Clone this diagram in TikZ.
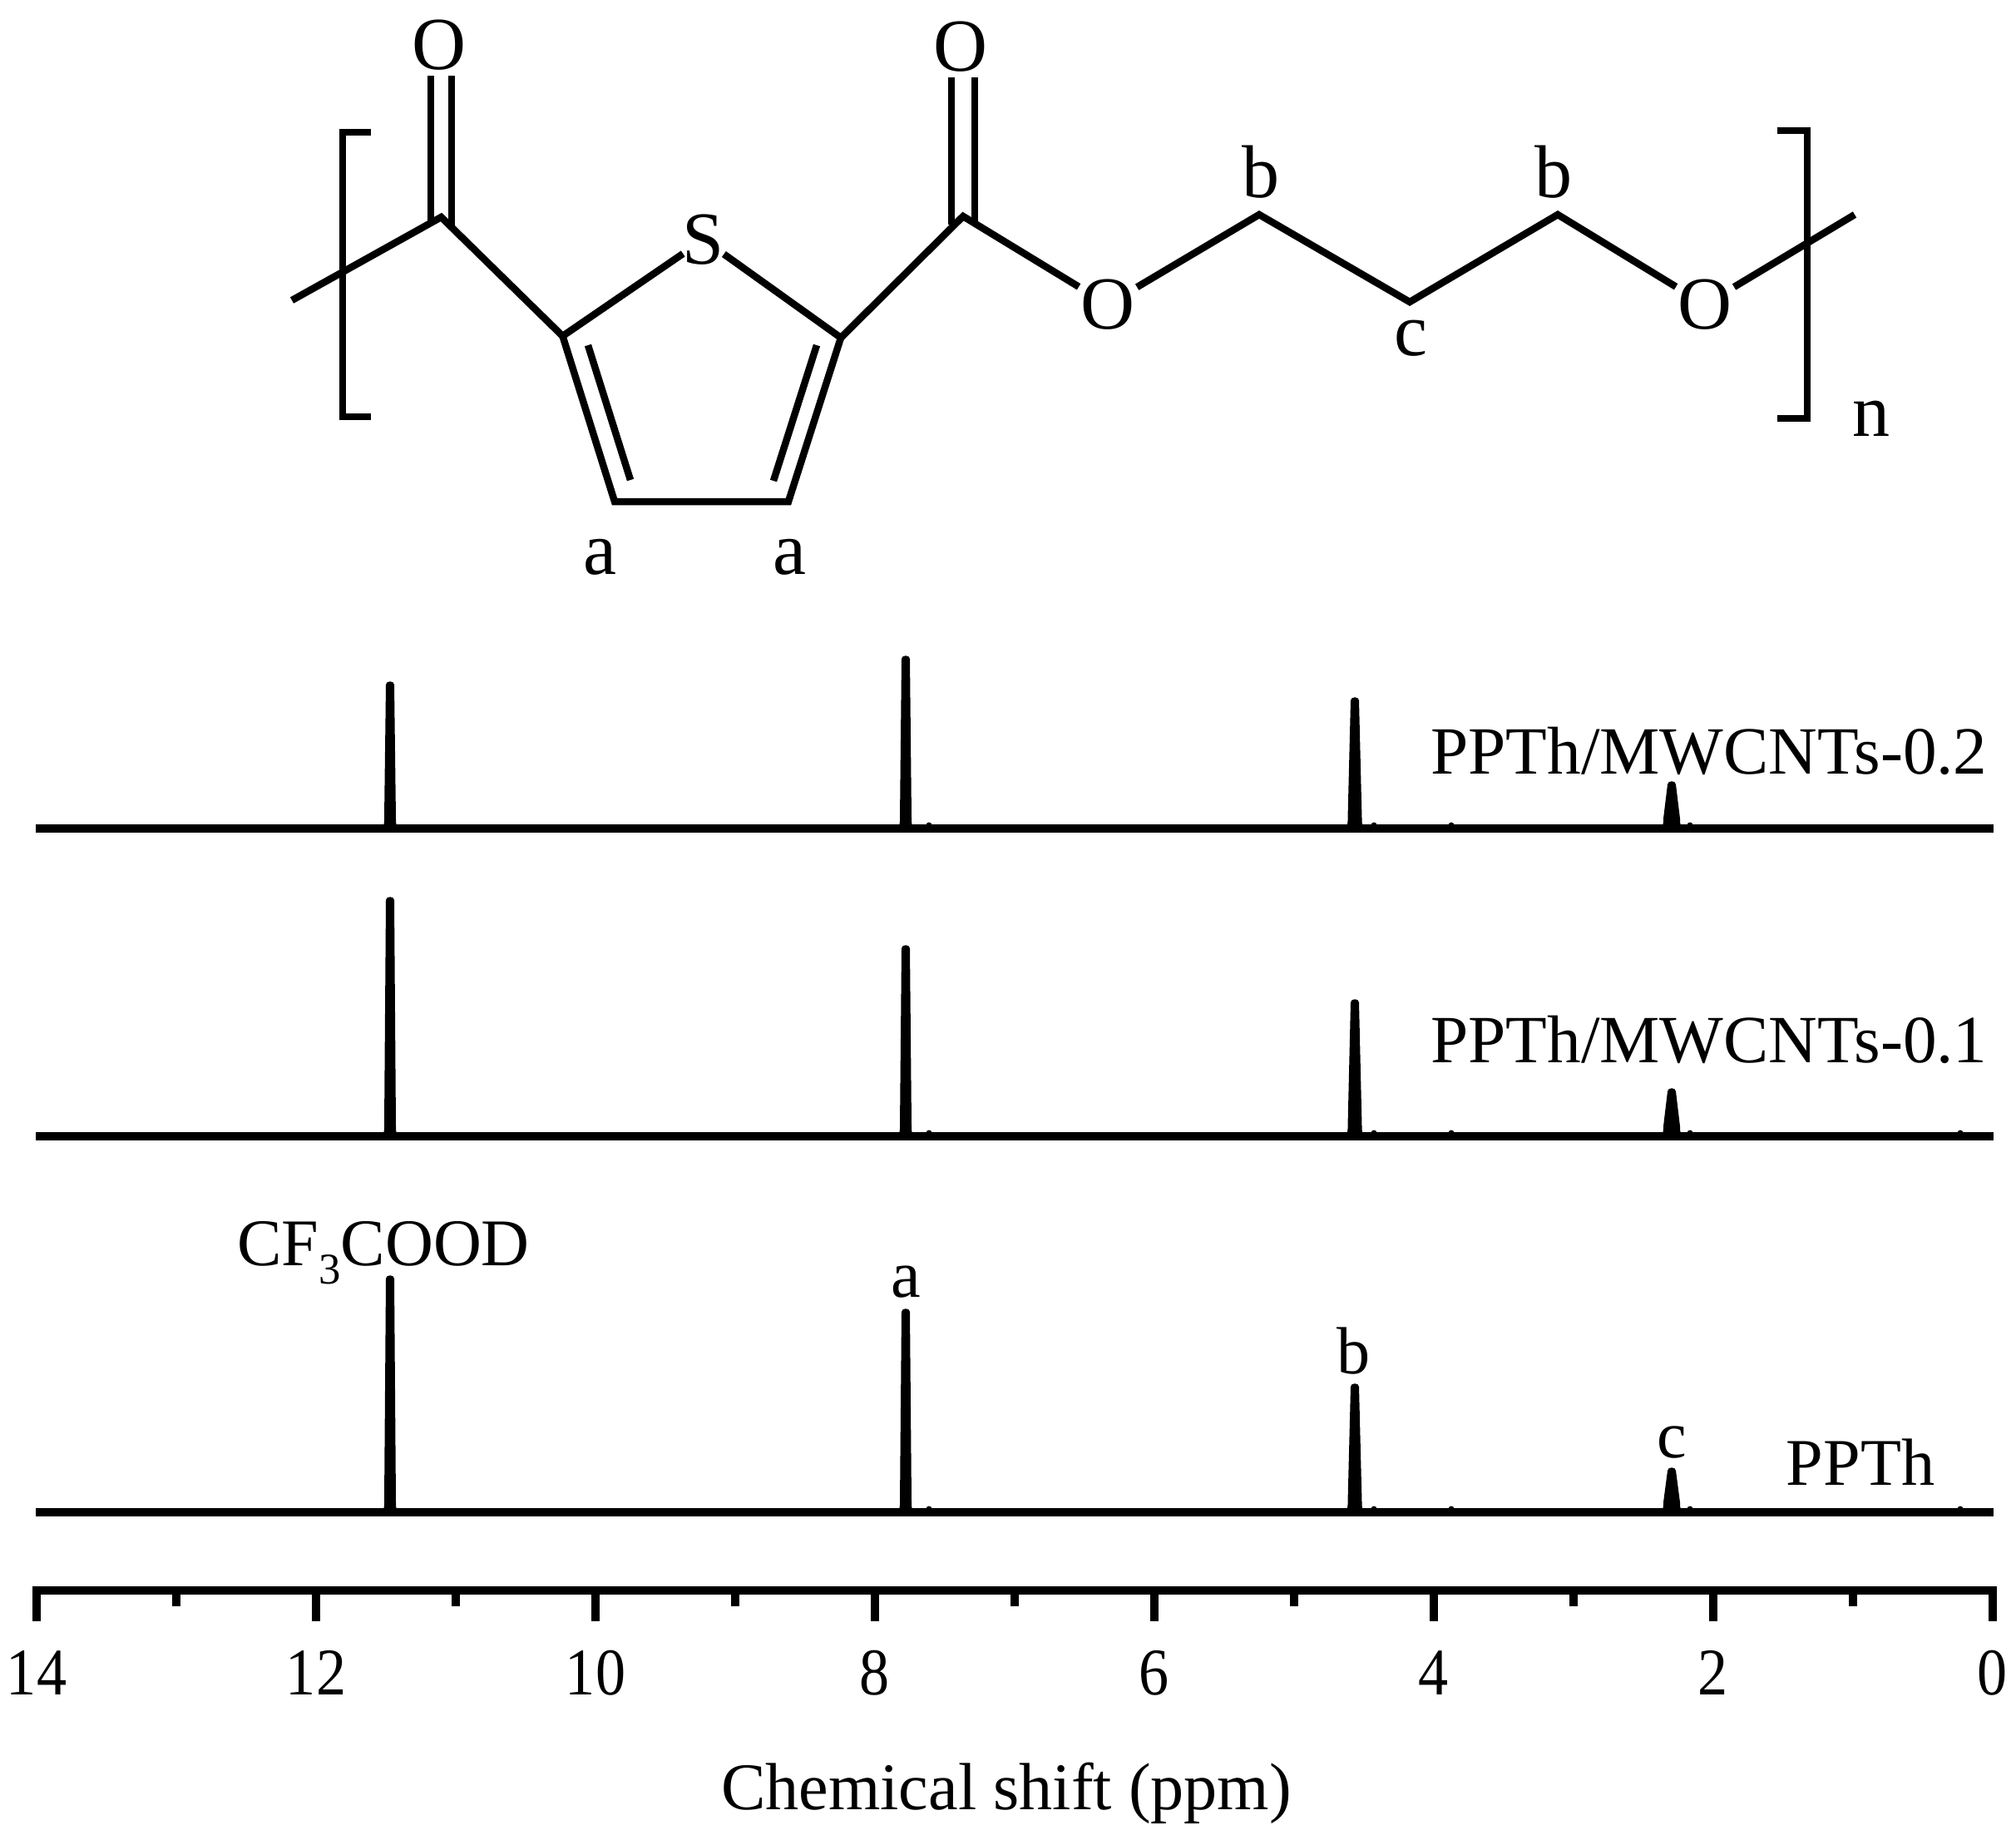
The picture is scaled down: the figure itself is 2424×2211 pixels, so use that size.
\documentclass[tikz,border=0pt]{standalone}
\usepackage{fontspec}
\setmainfont{Liberation Serif}
\newfontfamily\tickfamily[FakeStretch=0.9]{Liberation Serif}
\usetikzlibrary{calc}

\newcommand{\atomfont}{\fontsize{25.6pt}{30pt}\selectfont}
\newcommand{\plotfont}{\fontsize{22.8pt}{27pt}\selectfont}
\newcommand{\namefont}{\fontsize{23.1pt}{27pt}\selectfont}
\newcommand{\tickfont}{\tickfamily\fontsize{22.8pt}{27pt}\selectfont}
\newcommand{\subfont}{\fontsize{15pt}{18pt}\selectfont}

\tikzset{
  bond/.style={line width=0.085cm},
  spectrum/.style={line width=0.105cm},
  atomnode/.style={circle, inner sep=-0.03cm, font=\atomfont},
  hlabel/.style={anchor=base, inner sep=0pt, font=\atomfont},
  plotlabel/.style={anchor=base, inner sep=0pt, font=\plotfont}
}

% x, top, base, half width at the foot
\newcommand{\nmrpeak}[4]{
  \fill (#1-#4-4,#3) .. controls (#1-#4,#3-5) .. (#1-#4,#3-12) -- (#1-5,#2+4)
    .. controls (#1-5,#2-1) and (#1+5,#2-1) .. (#1+5,#2+4) -- (#1+#4,#3-12)
    .. controls (#1+#4,#3-5) .. (#1+#4+4,#3) -- cycle;
}

\begin{document}
\begin{tikzpicture}[x=0.01cm, y=-0.01cm]
  \useasboundingbox (0,0) rectangle (2424,2211);

  % repeat unit
  \coordinate (e1) at (351,361);
  \coordinate (c1) at (530.5,261);
  \coordinate (t1) at (530.5,91);
  \coordinate (r1) at (676.5,404);
  \coordinate (r2) at (1011,406);
  \coordinate (r3) at (739,603);
  \coordinate (r4) at (948,603);
  \coordinate (c2) at (1158,260);
  \coordinate (t2) at (1158,93);
  \coordinate (b1) at (1514,258);
  \coordinate (c3) at (1695,363);
  \coordinate (b2) at (1873,258);
  \coordinate (e2) at (2230,258);
  \node[atomnode] (o1) at (528,54) {O};
  \node[atomnode] (o2) at (1155,56) {O};
  \node[atomnode, inner sep=-0.07cm] (s1) at (846,288) {S};
  \node[atomnode] (o3) at (1332,366) {O};
  \node[atomnode] (o4) at (2050,366) {O};

  \draw[bond, double, double distance=0.165cm, shorten >=-0.1cm] (t1) -- (c1);
  \draw[bond, double, double distance=0.195cm, shorten >=-0.1cm] (t2) -- (c2);
  \draw[bond] (e1) -- (c1) -- (r1);
  \draw[bond] (r1) -- (s1);
  \draw[bond] (s1) -- (r2);
  \draw[bond] (r1) -- (r3) -- (r4) -- (r2);
  \draw[bond] (r2) -- (c2) -- (o3);
  \draw[bond] (o3) -- (b1) -- (c3) -- (b2) -- (o4);
  \draw[bond] (o4) -- (e2);

  \coordinate (i1) at (707,415);
  \coordinate (i2) at (758,577);
  \coordinate (i3) at (982,415);
  \coordinate (i4) at (930,578);
  \draw[bond] (i1) -- (i2);
  \draw[bond] (i3) -- (i4);

  \coordinate (bl1) at (446,159);
  \coordinate (bl2) at (412,159);
  \coordinate (bl3) at (412,501);
  \coordinate (bl4) at (446,501);
  \coordinate (br1) at (2137,157);
  \coordinate (br2) at (2173,157);
  \coordinate (br3) at (2173,503);
  \coordinate (br4) at (2137,503);
  \draw[bond] (bl1) -- (bl2) -- (bl3) -- (bl4);
  \draw[bond] (br1) -- (br2) -- (br3) -- (br4);

  \node[hlabel] (la1) at (721,690) {a};
  \node[hlabel] (la2) at (949,690) {a};
  \node[hlabel] (lb1) at (1516,237) {b};
  \node[hlabel] (lb2) at (1868,237) {b};
  \node[hlabel] (lc1) at (1696,427) {c};
  \node[hlabel] (ln1) at (2250,524) {n};

  % spectra
  \foreach \base/\topa/\topb/\topc/\topd in {996/819/788/838/939, 1366/1078/1136/1201/1308, 1818/1533/1573/1663/1764} {
    \draw[spectrum] (43,\base) -- (2397,\base);
    \nmrpeak{469}{\topa}{\base}{7}
    \nmrpeak{1089}{\topb}{\base}{7}
    \nmrpeak{1629}{\topc}{\base}{8.5}
    \nmrpeak{2010}{\topd}{\base}{10}
    \foreach \x in {1117,1652,1745,2032}
      \fill (\x,\base-4) circle (3.5);
  }
  \foreach \base in {1366,1818}
    \fill (2357,\base-4) circle (3.5);

  \node[plotlabel, font=\namefont] (s02) at (2055,930) {PPTh/MWCNTs-0.2};
  \node[plotlabel, font=\namefont] (s01) at (2055,1277) {PPTh/MWCNTs-0.1};
  \node[plotlabel] (s00) at (2237,1785) {PPTh};
  \node[plotlabel] (pk1) at (461,1521) {CF\raisebox{-0.22cm}{\subfont 3}COOD};
  \node[plotlabel] (pk2) at (1089,1559) {a};
  \node[plotlabel] (pk3) at (1628,1651) {b};
  \node[plotlabel] (pk4) at (2010,1752) {c};

  % axis
  \draw[line width=0.1cm] (39,1912) -- (2401,1912);
  \foreach \p in {0,2,...,14} {
    \coordinate (t\p) at ({2396-168*\p},1912);
    \draw[line width=0.1cm] (t\p) -- ++(0,37);
    \node[plotlabel, font=\tickfont] (v\p) at ({2396-168*\p},2037) {\p};
  }
  \foreach \p in {1,3,...,13} {
    \coordinate (t\p) at ({2396-168*\p},1912);
    \draw[line width=0.095cm] (t\p) -- ++(0,19);
  }
  \node[plotlabel] (xlabel) at (1210,2175) {Chemical shift (ppm)};
\end{tikzpicture}
\end{document}
